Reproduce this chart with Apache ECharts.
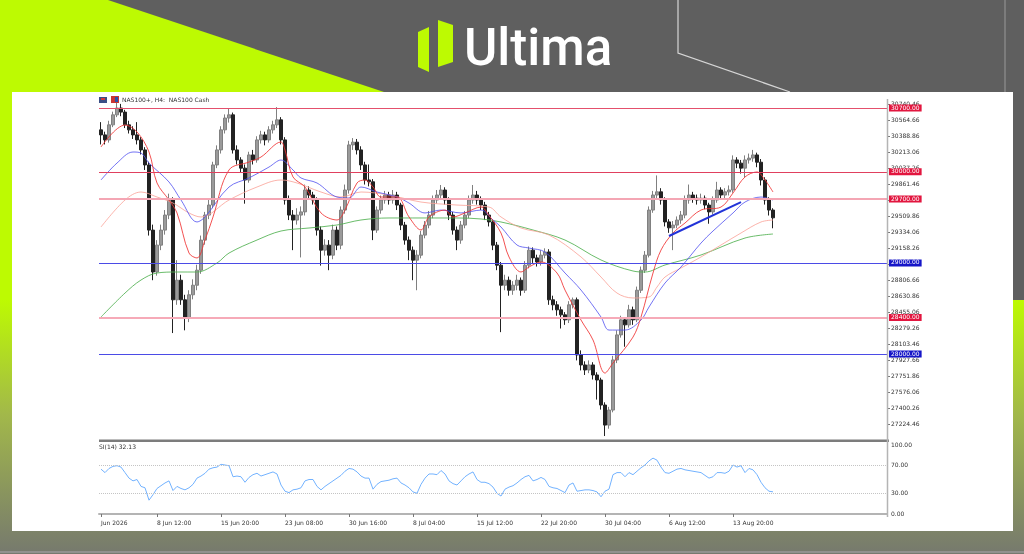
<!DOCTYPE html>
<html>
<head>
<meta charset="utf-8">
<title>NAS100+ H4</title>
<script src="https://cdn.jsdelivr.net/npm/echarts@6/dist/echarts.min.js"></script>
<style>
  html, body { margin: 0; padding: 0; background: #5f5f5f; }
  #wrap { position: relative; width: 1024px; height: 554px; overflow: hidden; }
  #bg { position: absolute; left: 0; top: 0; }
  #main { position: absolute; left: 0; top: 0; width: 1024px; height: 554px; }
</style>
</head>
<body>
<div id="wrap">
  <!-- backdrop: brand banner + white chart card -->
  <svg id="bg" width="1024" height="554">
    <defs>
      <linearGradient id="lowGrad" x1="0" y1="0" x2="0" y2="1">
        <stop offset="0" stop-color="#bdfa02"/>
        <stop offset="0.45" stop-color="#a2b84a"/>
        <stop offset="1" stop-color="#76796e"/>
      </linearGradient>
    </defs>
    <rect width="1024" height="554" fill="#5f5f5f"/>
    <rect x="0" y="300" width="1024" height="254" fill="url(#lowGrad)"/>
    <polygon points="0,0 108,0 384,92 0,92" fill="#bdfa02"/>
    <rect x="0" y="0" width="12" height="300" fill="#bdfa02"/>
    <polyline points="678,0 678,53 790,92" fill="none" stroke="#d6d6d6" stroke-width="1.2"/>
    <line x1="1005" y1="0" x2="1005" y2="92" stroke="#9a9a9a" stroke-width="1"/>
    <polygon points="418,32 429,27 429,72 418,67" fill="#bdfa02"/>
    <polygon points="438,20 453,25 453,62 438,67" fill="#bdfa02"/>
    <text x="464" y="65" font-family="Roboto" font-weight="500" font-size="51" fill="#ffffff">Ultima</text>
    <rect x="12" y="92" width="1001" height="439" fill="#ffffff"/>
    <line x1="0" y1="552" x2="1024" y2="552" stroke="#9a9a9a" stroke-width="1.5"/>
  </svg>
  <div id="main"></div>
</div>
<script>
// ---- data ----
// H4 candles: [open, close, low, high]
var candles = [
    [30460, 30405, 30300, 30545], [30405, 30350, 30300, 30440], [30350, 30515, 30320, 30560], [30515, 30625, 30490, 30660],
    [30625, 30700, 30600, 30755], [30700, 30655, 30610, 30745], [30655, 30515, 30480, 30680], [30515, 30460, 30420, 30560],
    [30460, 30405, 30360, 30500], [30405, 30350, 30300, 30545], [30350, 30240, 30190, 30380], [30240, 30075, 30020, 30270],
    [30075, 29360, 29300, 30110], [29360, 28900, 28810, 29420], [28900, 29195, 28860, 29250], [29195, 29360, 29140, 29420],
    [29360, 29525, 29310, 29580], [29525, 29690, 29480, 29760], [29690, 28595, 28230, 29720], [28595, 28810, 28540, 29030],
    [28810, 28595, 28540, 28870], [28595, 28395, 28260, 28650], [28395, 28650, 28350, 28700], [28650, 28755, 28600, 28820],
    [28755, 28920, 28700, 28980], [28920, 29250, 28880, 29300], [29250, 29525, 29200, 29560], [29525, 29635, 29480, 29700],
    [29635, 30075, 29600, 30110], [30075, 30240, 30040, 30290], [30240, 30460, 30200, 30500], [30460, 30590, 30420, 30630],
    [30590, 30625, 30540, 30690], [30625, 30240, 30200, 30650], [30240, 30130, 30080, 30290], [30130, 30040, 29990, 30160],
    [30040, 29910, 29650, 30080], [29910, 30185, 29880, 30220], [30185, 30130, 30080, 30240], [30130, 30350, 30100, 30390],
    [30350, 30405, 30310, 30450], [30405, 30350, 30290, 30440], [30350, 30460, 30320, 30500], [30460, 30515, 30420, 30560],
    [30515, 30570, 30480, 30710], [30570, 30350, 30300, 30600], [30350, 29690, 29640, 30380], [29690, 29525, 29470, 29740],
    [29525, 29470, 29140, 29580], [29470, 29525, 29420, 29600], [29525, 29560, 29060, 29620], [29560, 29800, 29520, 29860],
    [29800, 29745, 29690, 29840], [29745, 29690, 29640, 29780], [29690, 29360, 29300, 29720], [29360, 29140, 28970, 29400],
    [29140, 29195, 29080, 29260], [29195, 29085, 28920, 29250], [29085, 29360, 29040, 29420], [29360, 29195, 29140, 29400],
    [29195, 29580, 29150, 29620], [29580, 29800, 29540, 29860], [29800, 30295, 29760, 30340], [30295, 30325, 30240, 30370],
    [30325, 30240, 30190, 30360], [30240, 30075, 30020, 30280], [30075, 29910, 29860, 30110], [29910, 29890, 29840, 30080],
    [29890, 29360, 29250, 29920], [29360, 29580, 29330, 29620], [29580, 29690, 29540, 29740], [29690, 29745, 29650, 29790],
    [29745, 29690, 29640, 29780], [29690, 29745, 29650, 29800], [29745, 29635, 29580, 29780], [29635, 29415, 29360, 29660],
    [29415, 29250, 29200, 29450], [29250, 29140, 29030, 29290], [29140, 29030, 28810, 29180], [29030, 29085, 28700, 29140],
    [29085, 29305, 29050, 29350], [29305, 29415, 29270, 29460], [29415, 29525, 29380, 29570], [29525, 29690, 29490, 29740],
    [29690, 29745, 29650, 29800], [29745, 29800, 29710, 29855], [29800, 29690, 29640, 29830], [29690, 29525, 29470, 29720],
    [29525, 29360, 29310, 29560], [29360, 29250, 29140, 29400], [29250, 29415, 29210, 29460], [29415, 29525, 29380, 29570],
    [29525, 29690, 29490, 29740], [29690, 29745, 29650, 29855], [29745, 29690, 29640, 29790], [29690, 29635, 29580, 29730],
    [29635, 29525, 29470, 29670], [29525, 29450, 29400, 29560], [29450, 29195, 29140, 29480], [29195, 28975, 28920, 29230],
    [28975, 28755, 28240, 29010], [28755, 28810, 28700, 28870], [28810, 28700, 28640, 28850], [28700, 28755, 28650, 28800],
    [28755, 28810, 28700, 28870], [28810, 28700, 28640, 28840], [28700, 28975, 28670, 29020], [28975, 29140, 28940, 29180],
    [29140, 29055, 29000, 29170], [29055, 29010, 28960, 29090], [29010, 29085, 28970, 29140], [29085, 29120, 29050, 29160],
    [29120, 28595, 28540, 29150], [28595, 28540, 28480, 28640], [28540, 28485, 28420, 28580], [28485, 28430, 28280, 28520],
    [28430, 28375, 28320, 28460], [28375, 28540, 28340, 28580], [28540, 28595, 28500, 28620], [28595, 27990, 27930, 28620],
    [27990, 27880, 27820, 28040], [27880, 27825, 27770, 27920], [27825, 27880, 27790, 27930], [27880, 27770, 27720, 27910],
    [27770, 27715, 27500, 27800], [27715, 27440, 27390, 27740], [27440, 27220, 27100, 27470], [27220, 27385, 27180, 27420],
    [27385, 27935, 27360, 27980], [27935, 28210, 27900, 28260], [28210, 28375, 28180, 28420], [28375, 28320, 28080, 28400],
    [28320, 28485, 28290, 28540], [28485, 28375, 28320, 28520], [28375, 28700, 28350, 28740], [28700, 28920, 28670, 28960],
    [28920, 29085, 28890, 29130], [29085, 29580, 29060, 29620], [29580, 29745, 29550, 29790], [29745, 29780, 29700, 29960],
    [29780, 29690, 29640, 29820], [29690, 29450, 29400, 29720], [29450, 29385, 29330, 29480], [29385, 29415, 29140, 29460],
    [29415, 29470, 29380, 29510], [29470, 29525, 29430, 29570], [29525, 29690, 29490, 29740], [29690, 29745, 29650, 29860],
    [29745, 29710, 29660, 29780], [29710, 29690, 29640, 29750], [29690, 29710, 29650, 29760], [29710, 29635, 29590, 29740],
    [29635, 29560, 29430, 29660], [29560, 29690, 29530, 29730], [29690, 29800, 29660, 29890], [29800, 29745, 29700, 29830],
    [29745, 29780, 29710, 29820], [29780, 29800, 29740, 29850], [29800, 30130, 29770, 30180], [30130, 30095, 30040, 30160],
    [30095, 30040, 29980, 30130], [30040, 30130, 29940, 30180], [30130, 30150, 30090, 30200], [30150, 30185, 30110, 30240],
    [30185, 30105, 30050, 30210], [30105, 29910, 29850, 30140], [29910, 29690, 29640, 29940], [29690, 29580, 29520, 29720],
    [29580, 29495, 29380, 29600]
];

// RSI(14), one value per candle
var rsi = [
    65, 60, 66, 69, 70, 68, 60, 52, 48, 50, 40, 38, 20, 28, 37, 41, 45, 48, 34, 40,
    37, 35, 38, 43, 52, 55, 59, 65, 67, 68, 72, 71, 70, 54, 55, 54, 46, 53, 57, 59,
    55, 57, 59, 61, 58, 42, 33, 31, 35, 36, 38, 48, 50, 50, 40, 35, 40, 44, 48, 52,
    56, 62, 66, 65, 61, 55, 52, 52, 36, 43, 47, 48, 49, 51, 52, 45, 42, 38, 32, 30,
    43, 52, 58, 58, 57, 63, 58, 48, 44, 42, 48, 54, 58, 61, 50, 46, 46, 44, 39, 30,
    26, 36, 39, 41, 45, 50, 54, 56, 48, 50, 53, 50, 40, 38, 37, 34, 31, 42, 45, 33,
    34, 35, 35, 34, 32, 25, 33, 36, 57, 60, 60, 54, 60, 57, 62, 67, 71, 77, 81, 78,
    68, 60, 59, 62, 65, 66, 64, 63, 62, 61, 60, 56, 52, 54, 60, 60, 59, 62, 71, 68,
    70, 60, 66, 64, 57, 46, 38, 33, 32.13
];

// moving averages, sampled as [bar index, price]
var maFast = [[0, 30272], [6, 30513], [9, 30437], [12, 30217], [14, 29877], [17, 29690], [19, 29548], [22, 29108],
    [24, 29054], [26, 29251], [28, 29504], [32, 30020], [37, 30107], [40, 30162], [45, 30327], [46, 30239], [48, 29943],
    [51, 29833], [55, 29548], [59, 29471], [61, 29580], [64, 29877], [66, 29910], [68, 29833], [70, 29723], [74, 29723],
    [77, 29504], [80, 29361], [82, 29504], [86, 29580], [88, 29504], [91, 29548], [95, 29613], [97, 29520], [100, 29328],
    [102, 29065], [105, 28900], [107, 28955], [110, 29010], [114, 28889], [116, 28702], [120, 28373], [123, 28154],
    [126, 27791], [128, 27901], [133, 28186], [135, 28406], [138, 28889], [140, 29141], [143, 29328], [146, 29438],
    [150, 29580], [155, 29613], [158, 29767], [161, 29943], [164, 29998], [166, 29910], [168, 29778]];
var maMid = [[0, 29910], [4, 30096], [8, 30217], [10, 30206], [12, 30096], [17, 29888], [20, 29690], [24, 29449],
    [26, 29504], [32, 29833], [37, 29932], [42, 30052], [45, 30129], [48, 30020], [50, 29932], [54, 29877], [59, 29723],
    [62, 29712], [65, 29833], [69, 29778], [74, 29723], [77, 29657], [81, 29548], [85, 29580], [90, 29548], [95, 29580],
    [98, 29471], [100, 29394], [104, 29196], [107, 29163], [111, 29119], [116, 28889], [120, 28702], [125, 28406],
    [127, 28263], [131, 28263], [135, 28373], [137, 28516], [141, 28779], [145, 28955], [150, 29218], [153, 29350],
    [158, 29548], [161, 29668], [165, 29723], [168, 29690]];
var maSlow = [[0, 29394], [6, 29690], [10, 29778], [14, 29723], [18, 29657], [22, 29548], [25, 29504], [32, 29690],
    [39, 29833], [45, 29910], [49, 29877], [55, 29778], [60, 29723], [65, 29778], [72, 29745], [80, 29668], [89, 29635],
    [97, 29613], [100, 29504], [105, 29383], [112, 29306], [120, 29065], [125, 28845], [129, 28669], [133, 28615],
    [137, 28626], [139, 28735], [141, 28845], [145, 28944], [150, 29065], [160, 29328], [165, 29449], [168, 29471]];
var maLong = [[0, 28406], [6, 28669], [10, 28812], [14, 28889], [19, 28900], [24, 28900], [29, 28999], [32, 29108],
    [39, 29251], [45, 29350], [52, 29383], [59, 29416], [65, 29471], [72, 29493], [80, 29493], [89, 29493], [95, 29482],
    [100, 29449], [108, 29361], [116, 29251], [125, 29032], [133, 28911], [136, 28900], [141, 28977], [150, 29087],
    [161, 29273], [168, 29317]];

var trendLine = [[142, 29295], [160, 29668]];
var redLevels = [30700, 30000, 29700, 28400];
var blueLevels = [29000, 28000];

var timeLabels = ['Jun 2026', '8 Jun 12:00', '15 Jun 20:00', '23 Jun 08:00', '30 Jun 16:00', '8 Jul 04:00',
    '15 Jul 12:00', '22 Jul 20:00', '30 Jul 04:00', '6 Aug 12:00', '13 Aug 20:00'];
var labelBars = [0, 14, 30, 46, 62, 78, 94, 110, 126, 142, 158];
var barSlots = 197;   // visible bar slots incl. empty right margin

var priceMin = 27048.66, priceMax = 30798.8, priceStep = 175.8;
var rsiLevels = [30, 70];
var rsiLabels = [0, 30, 70, 100];

// ---- build ----
var categories = [];
for (var i = 0; i < barSlots; i++) {
    var k = labelBars.indexOf(i);
    categories.push(k >= 0 ? timeLabels[k] : String(i));
}
function isLabelBar(idx) {
    return labelBars.indexOf(idx) >= 0;
}

var FONT = 'DejaVu Sans';
var lineWidthOf = {30700: 1, 30000: 1, 29700: 2, 28400: 2};
var lineColorOf = {30700: '#e4506c', 30000: '#e0405e', 29700: '#f4a6b4', 28400: '#f6aab8'};

function levelLine(v, color, width, tagColor) {
    return {
        yAxis: v,
        lineStyle: {color: color, width: width, type: 'solid'},
        label: {
            show: true, position: 'end', distance: 2,
            formatter: function (p) { return Number(p.value).toFixed(2); },
            backgroundColor: tagColor, color: '#ffffff',
            fontFamily: FONT, fontSize: 6, padding: [1, 2, 0, 2]
        }
    };
}

var levelData = [];
redLevels.forEach(function (v) {
    levelData.push(levelLine(v, lineColorOf[v], lineWidthOf[v], '#e2163f'));
});
blueLevels.forEach(function (v) {
    levelData.push(levelLine(v, '#4b4be6', 1, '#1616c8'));
});

function maSeries(data, color, width) {
    return {
        type: 'line', xAxisIndex: 0, yAxisIndex: 0, data: data,
        smooth: 0.35, showSymbol: false, silent: true, z: 3,
        lineStyle: {color: color, width: width}
    };
}

var chart = echarts.init(document.getElementById('main'), null, {renderer: 'canvas'});

var option = {
    animation: false,
    backgroundColor: 'transparent',
    grid: [
        {left: 99, top: 99, width: 788, height: 341.7},
        {left: 99, top: 445, width: 788, height: 69}
    ],
    xAxis: [
        {
            type: 'category', gridIndex: 0, data: categories, boundaryGap: true,
            axisLine: {show: false}, axisTick: {show: false}, axisLabel: {show: false}, splitLine: {show: false}
        },
        {
            type: 'category', gridIndex: 1, data: categories, boundaryGap: true, offset: 2,
            axisLine: {show: true, lineStyle: {color: '#b4b4b4', width: 2}},
            axisTick: {show: true, alignWithLabel: true, length: 3, interval: function (idx) { return isLabelBar(idx); },
                lineStyle: {color: '#777777'}},
            axisLabel: {
                interval: function (idx) { return isLabelBar(idx); },
                align: 'left', margin: 4, fontSize: 6, fontFamily: FONT, color: '#333333'
            },
            splitLine: {show: false}
        }
    ],
    yAxis: [
        {
            type: 'value', gridIndex: 0, position: 'right',
            min: priceMin, max: priceMax, interval: priceStep,
            axisLine: {show: false},
            axisTick: {show: true, length: 3, lineStyle: {color: '#777777'}},
            splitLine: {show: false},
            axisLabel: {
                margin: 4, fontSize: 6, fontFamily: FONT, color: '#333333',
                showMinLabel: false, showMaxLabel: false,
                formatter: function (v) { return v.toFixed(2); }
            }
        },
        {
            type: 'value', gridIndex: 1, position: 'right',
            min: 0, max: 100, interval: 10,
            axisLine: {show: false}, axisTick: {show: false}, splitLine: {show: false},
            axisLabel: {
                margin: 4, fontSize: 6, fontFamily: FONT, color: '#333333',
                formatter: function (v) { return rsiLabels.indexOf(v) >= 0 ? v.toFixed(2) : ''; }
            }
        }
    ],
    series: [
        {
            type: 'candlestick', xAxisIndex: 0, yAxisIndex: 0, data: candles,
            barWidth: 3, silent: true,
            itemStyle: {color: '#9a9a9a', color0: '#222222', borderColor: '#808080', borderColor0: '#222222', borderWidth: 1},
            markLine: {silent: true, symbol: ['none', 'none'], animation: false, data: levelData}
        },
        maSeries(maLong, 'rgba(80,176,80,0.85)', 1),
        maSeries(maSlow, 'rgba(250,160,150,0.8)', 1),
        maSeries(maMid, 'rgba(80,80,240,0.8)', 1),
        maSeries(maFast, 'rgba(240,50,50,0.85)', 1),
        {
            type: 'line', xAxisIndex: 0, yAxisIndex: 0, data: trendLine, z: 4,
            showSymbol: false, silent: true, lineStyle: {color: '#2233d8', width: 2}
        },
        {
            type: 'line', xAxisIndex: 1, yAxisIndex: 1, data: rsi,
            showSymbol: false, silent: true, lineStyle: {color: '#72b2ff', width: 1},
            markLine: {
                silent: true, symbol: ['none', 'none'], animation: false,
                label: {show: false},
                lineStyle: {color: '#c4c4c4', type: 'dotted', width: 1},
                data: rsiLevels.map(function (v) { return {yAxis: v}; })
            }
        }
    ],
    graphic: [
        // panel separator and price axis line
        {type: 'rect', z: 10, shape: {x: 99, y: 439.5, width: 790, height: 2.5}, style: {fill: '#7c7c7c'}},
        {type: 'line', z: 10, shape: {x1: 887.5, y1: 99, x2: 887.5, y2: 517}, style: {stroke: '#b4b4b4', lineWidth: 1.5}},
        // chart caption
        {type: 'rect', z: 10, shape: {x: 99, y: 97, width: 8, height: 6}, style: {fill: '#3b4f86'}},
        {type: 'rect', z: 10, shape: {x: 101, y: 98, width: 4, height: 2}, style: {fill: '#d03a3a'}},
        {type: 'rect', z: 10, shape: {x: 111, y: 96, width: 8, height: 7}, style: {fill: '#c83434'}},
        {type: 'rect', z: 10, shape: {x: 115, y: 97, width: 3, height: 5}, style: {fill: '#2b4fa8'}},
        {type: 'text', z: 10, x: 122, y: 100,
            style: {text: 'NAS100+, H4:  NAS100 Cash', fill: '#333333', font: '6px "DejaVu Sans"', verticalAlign: 'middle'}},
        {type: 'text', z: 10, x: 99, y: 447,
            style: {text: 'SI(14) 32.13', fill: '#333333', font: '6px "DejaVu Sans"', verticalAlign: 'middle'}}
    ]
};

chart.setOption(option);
</script>
</body>
</html>
